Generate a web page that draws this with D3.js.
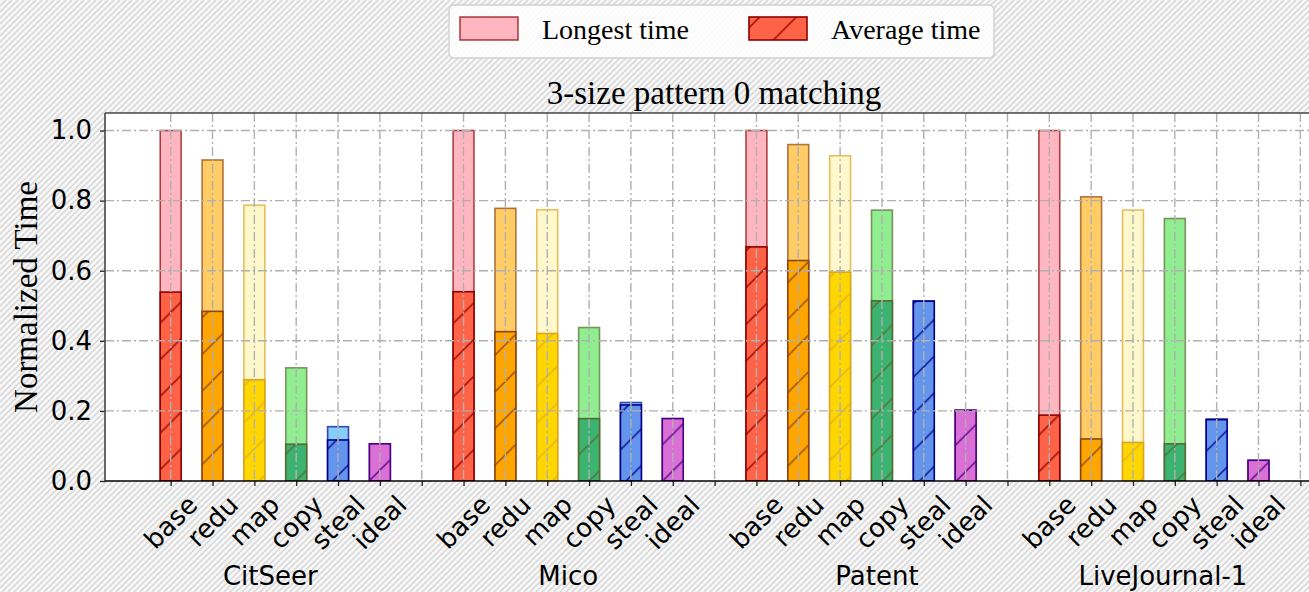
<!DOCTYPE html>
<html>
<head>
<meta charset="utf-8">
<script src="https://cdn.jsdelivr.net/npm/d3@7"></script>
<style>
  html, body { margin: 0; padding: 0; background: #fff; }
  svg { display: block; }
</style>
</head>
<body>
<svg id="chart" width="1309" height="592"></svg>
<script>
// ---------------- data ----------------
const title = "3-size pattern 0 matching";
const yLabel = "Normalized Time";
const groups = ["CitSeer", "Mico", "Patent", "LiveJournal-1"];
const methods = ["base", "redu", "map", "copy", "steal", "ideal"];
const yTicks = [0.0, 0.2, 0.4, 0.6, 0.8, 1.0];
const legendLabels = ["Longest time", "Average time"];

const longestCitSeer = [1.000, 0.916, 0.787, 0.323, 0.155, 0.106];
const averageCitSeer = [0.539, 0.484, 0.289, 0.105, 0.117, 0.106];
const longestMico    = [1.000, 0.778, 0.774, 0.438, 0.224, 0.178];
const averageMico    = [0.540, 0.426, 0.421, 0.178, 0.217, 0.178];
const longestPatent  = [1.000, 0.960, 0.928, 0.773, 0.514, 0.202];
const averagePatent  = [0.668, 0.629, 0.596, 0.514, 0.513, 0.202];
const longestLJ      = [1.000, 0.811, 0.773, 0.749, 0.177, 0.059];
const averageLJ      = [0.188, 0.120, 0.110, 0.106, 0.175, 0.059];

const longestAll = [longestCitSeer, longestMico, longestPatent, longestLJ];
const averageAll = [averageCitSeer, averageMico, averagePatent, averageLJ];

// ---------------- styles ----------------
const lightFill = ["#FFB6C1", "#FFCC66", "#FFF8CC", "#90EE90", "#87CEFA", "#DA70D6"];
const darkFill  = ["#FF6347", "#FFA500", "#FFD700", "#3CB371", "#6495ED", "#DA70D6"];
const edge      = ["#8B0000", "#8B4513", "#DAA520", "#556B2F", "#00008B", "#4B0082"];
const groupLabelShift = [-5, 0, 16, 9]; // px

// ---------------- layout ----------------
const W = 1309, H = 592;
const plot = { left: 105, top: 113, bottom: 481, right: 1309 };
const slotsPerGroup = 7;

const svg = d3.select("#chart");
const defs = svg.append("defs");

// background hatch
const bg = defs.append("pattern").attr("id", "bgHatch")
  .attr("patternUnits", "userSpaceOnUse").attr("width", 6).attr("height", 6);
bg.append("rect").attr("width", 6).attr("height", 6).attr("fill", "#f8f8f8");
bg.append("path").attr("d", "M-1,7 L7,-1 M-4,4 L4,-4 M2,10 L10,2")
  .attr("stroke", "#dadada").attr("stroke-width", 1.6);

svg.append("rect").attr("width", W).attr("height", H).attr("fill", "url(#bgHatch)");

// bar hatch patterns
const hs = 36.7;
edge.forEach((c, i) => {
  const p = defs.append("pattern").attr("id", "hatch" + i)
    .attr("patternUnits", "userSpaceOnUse").attr("width", hs).attr("height", hs)
    .attr("y", 6);
  p.append("rect").attr("width", hs).attr("height", hs).attr("fill", darkFill[i]);
  p.append("path")
    .attr("d", `M${-hs*0.1},${hs*1.1} L${hs*1.1},${-hs*0.1} M${-hs*0.6},${hs*0.6} L${hs*0.6},${-hs*0.6} M${hs*0.4},${hs*1.6} L${hs*1.6},${hs*0.4}`)
    .attr("stroke", c).attr("stroke-width", 1.5).attr("stroke-opacity", i === 2 ? 0.75 : 0.9);
});

defs.append("clipPath").attr("id", "plotClip").append("rect")
  .attr("x", plot.left).attr("y", plot.top)
  .attr("width", plot.right - plot.left).attr("height", plot.bottom - plot.top);

const x = d3.scaleLinear().domain([-1.57, 27.207]).range([plot.left, plot.right]);
const y = d3.scaleLinear().domain([0, 1.05]).range([plot.bottom, plot.top]);
const barW = x(0.5) - x(0);

// plot background
svg.append("rect").attr("x", plot.left).attr("y", plot.top)
  .attr("width", plot.right - plot.left).attr("height", plot.bottom - plot.top)
  .attr("fill", "#fff");

// bars
const bars = [];
groups.forEach((g, gi) => {
  methods.forEach((m, mi) => {
    bars.push({ slot: gi * slotsPerGroup + mi, mi, longest: longestAll[gi][mi], avg: averageAll[gi][mi] });
  });
});

const barG = svg.append("g").attr("clip-path", "url(#plotClip)");
barG.selectAll("rect.longest").data(bars).join("rect").attr("class", "longest")
  .attr("x", d => x(d.slot) - barW / 2).attr("width", barW)
  .attr("y", d => y(d.longest)).attr("height", d => y(0) - y(d.longest))
  .attr("fill", d => lightFill[d.mi])
  .attr("stroke", d => edge[d.mi]).attr("stroke-opacity", 0.7).attr("stroke-width", 1.6);
barG.selectAll("rect.avg").data(bars).join("rect").attr("class", "avg")
  .attr("x", d => x(d.slot) - barW / 2).attr("width", barW)
  .attr("y", d => y(d.avg)).attr("height", d => y(0) - y(d.avg))
  .attr("fill", d => `url(#hatch${d.mi})`)
  .attr("stroke", d => edge[d.mi]).attr("stroke-width", 1.6);

// grid (on top of bars)
const slots = d3.range(groups.length * slotsPerGroup);
const gridG = svg.append("g").attr("clip-path", "url(#plotClip)");
gridG.selectAll("line.vg").data(slots).join("line").attr("class", "vg")
  .attr("x1", d => x(d)).attr("x2", d => x(d)).attr("y1", plot.top).attr("y2", plot.bottom)
  .attr("stroke", "#b0b0b0").attr("stroke-width", 1.4).attr("stroke-dasharray", "9,3,2,3");
gridG.selectAll("line.hg").data(yTicks.filter(t => t > 0)).join("line").attr("class", "hg")
  .attr("x1", plot.left).attr("x2", plot.right).attr("y1", d => y(d)).attr("y2", d => y(d))
  .attr("stroke", "#b0b0b0").attr("stroke-width", 1.4).attr("stroke-dasharray", "9,3,2,3");

// y axis
const yAxis = d3.axisLeft(y).tickValues(yTicks).tickFormat(d3.format(".1f")).tickSize(5).tickPadding(8);
const yg = svg.append("g").attr("transform", `translate(${plot.left},0)`).call(yAxis);
yg.select(".domain").remove();
yg.selectAll("line").attr("stroke", "#222").attr("stroke-width", 1.3);
yg.selectAll("text").attr("font-family", "'DejaVu Sans'").attr("font-size", 26).attr("fill", "#000");

// x axis
const xAxis = d3.axisBottom(x).tickValues(slots).tickFormat("").tickSize(5);
const xg = svg.append("g").attr("transform", `translate(0,${plot.bottom})`).call(xAxis);
xg.select(".domain").remove();
xg.selectAll("line").attr("stroke", "#222").attr("stroke-width", 1.3);

// x tick labels (rotated 45, bbox centered at tick)
const fsTick = 26;
const labelTop = 491;
const tl = svg.append("g");
bars.forEach(d => {
  const t = tl.append("text").text(methods[d.mi])
    .attr("font-family", "'DejaVu Sans'").attr("font-size", fsTick).attr("fill", "#000")
    .attr("text-anchor", "middle").attr("dominant-baseline", "central");
  const w = t.node().getComputedTextLength();
  const h = fsTick * 1.0;
  const bb = (w + h) / Math.SQRT2;
  const cx = x(d.slot), cy = labelTop + bb / 2;
  t.attr("transform", `translate(${cx},${cy}) rotate(-45)`);
});

// group labels
svg.append("g").selectAll("text").data(groups).join("text")
  .attr("x", (d, i) => (x(i * slotsPerGroup) + x(i * slotsPerGroup + methods.length - 1)) / 2 + groupLabelShift[i])
  .attr("y", 585)
  .attr("text-anchor", "middle")
  .attr("font-family", "'DejaVu Sans'").attr("font-size", 26).attr("fill", "#000")
  .text(d => d);

// spines
svg.append("line").attr("x1", plot.left).attr("x2", plot.right).attr("y1", plot.top).attr("y2", plot.top)
  .attr("stroke", "#444").attr("stroke-width", 1.6);
svg.append("line").attr("x1", plot.left).attr("x2", plot.left).attr("y1", plot.top).attr("y2", plot.bottom)
  .attr("stroke", "#444").attr("stroke-width", 1.6);
svg.append("line").attr("x1", plot.left).attr("x2", plot.right).attr("y1", plot.bottom).attr("y2", plot.bottom)
  .attr("stroke", "#000").attr("stroke-width", 1.6);

// title
svg.append("text").attr("x", 714).attr("y", 104).attr("text-anchor", "middle")
  .attr("font-family", "'Liberation Serif', 'Times New Roman', serif").attr("font-size", 33).attr("fill", "#000")
  .text(title);

// y label
svg.append("text").attr("transform", "translate(37,297) rotate(-90)").attr("text-anchor", "middle")
  .attr("font-family", "'Liberation Serif', 'Times New Roman', serif").attr("font-size", 33).attr("fill", "#000")
  .text(yLabel);

// legend
const lg = svg.append("g");
lg.append("rect").attr("x", 449).attr("y", 5).attr("width", 545).attr("height", 53).attr("rx", 5)
  .attr("fill", "#fff").attr("fill-opacity", 0.85).attr("stroke", "#d0d0d0").attr("stroke-width", 1.3);
const legItems = [
  { px: 460, tx: 542, fill: lightFill[0], op: 0.7 },
  { px: 749, tx: 831, fill: "url(#hatch0)", op: 1 }
];
legItems.forEach((it, i) => {
  lg.append("rect").attr("x", it.px).attr("y", 17).attr("width", 58).attr("height", 23)
    .attr("fill", it.fill).attr("stroke", edge[0]).attr("stroke-opacity", it.op).attr("stroke-width", 1.6);
  lg.append("text").attr("x", it.tx).attr("y", 39)
    .attr("font-family", "'Liberation Serif', 'Times New Roman', serif").attr("font-size", 28).attr("fill", "#000")
    .text(legendLabels[i]);
});
</script>
</body>
</html>
